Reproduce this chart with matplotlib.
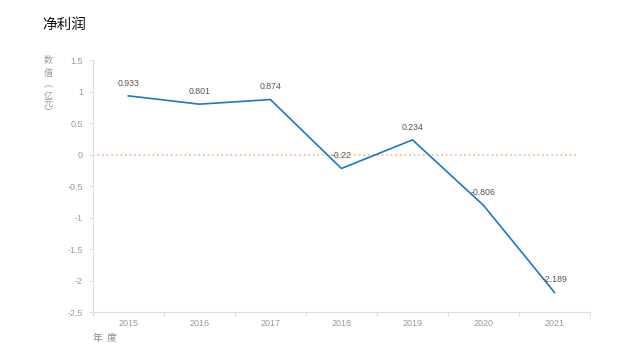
import matplotlib
matplotlib.use("Agg")
import matplotlib.pyplot as plt
from matplotlib.ticker import FixedLocator

plt.rcParams['font.family'] = ['Noto Sans CJK SC', 'DejaVu Sans']

years = ["2015", "2016", "2017", "2018", "2019", "2020", "2021"]
values = [0.933, 0.801, 0.874, -0.22, 0.234, -0.806, -2.189]
labels = ["0.933", "0.801", "0.874", "-0.22", "0.234", "-0.806", "-2.189"]
yticks = [1.5, 1, 0.5, 0, -0.5, -1, -1.5, -2, -2.5]
ytick_labels = ["1.5", "1", "0.5", "0", "-0.5", "-1", "-1.5", "-2", "-2.5"]

fig = plt.figure(figsize=(6.4, 3.6), dpi=100)
ax = fig.add_axes([0.145, 0.133, 0.777, 0.70])

x = list(range(len(years)))
ax.plot(x, values, color="#1a78c8", linewidth=1.2, zorder=3)
ax.axhline(0, xmin=0, xmax=0.976, color="#f5a878", linestyle=(0, (1, 2)),
           linewidth=1.1, zorder=2)

for xi, v, lab in zip(x, values, labels):
    ax.annotate(lab, (xi, v), xytext=(0, 6), textcoords="offset points",
                ha="center", va="bottom", fontsize=6.3, color="#555555",
                family=["Liberation Sans", "DejaVu Sans"])

ax.set_xlim(-0.5, 6.5)
ax.set_ylim(-2.5, 1.5)
ax.set_xticks(x)
ax.set_xticklabels(years)
ax.xaxis.set_minor_locator(FixedLocator([i + 0.5 for i in range(-1, 7)]))
ax.set_yticks(yticks)
ax.set_yticklabels(ytick_labels)

for lab in ax.get_xticklabels() + ax.get_yticklabels():
    lab.set_family(["Liberation Sans", "DejaVu Sans"])
ax.tick_params(axis="x", which="major", length=0, labelsize=6.5, labelcolor="#999999", pad=5)
ax.tick_params(axis="x", which="minor", length=3, color="#dddddd", width=0.8)
ax.tick_params(axis="y", which="major", length=3, color="#dddddd", labelsize=6.5,
               labelcolor="#999999", pad=4, width=0.8)

for s in ["top", "right"]:
    ax.spines[s].set_visible(False)
for s in ["left", "bottom"]:
    ax.spines[s].set_color("#dddddd")
    ax.spines[s].set_linewidth(0.8)

fig.text(42 / 640, 1 - 25 / 360, "净利润", fontsize=10.5, color="#111111",
         ha="left", va="center")
ylab_chars = ["数", "值", "︵", "亿", "元", "︶"]
ylab_y = [60, 73, 85, 96, 104, 113]
for ch, yy in zip(ylab_chars, ylab_y):
    fig.text(48 / 640, 1 - yy / 360, ch, fontsize=6.5, color="#999999",
             ha="center", va="center")
fig.text(93 / 640, 1 - 338 / 360, "年  度", fontsize=7, color="#888888",
         ha="left", va="center")

fig.savefig("out.png", dpi=100)
